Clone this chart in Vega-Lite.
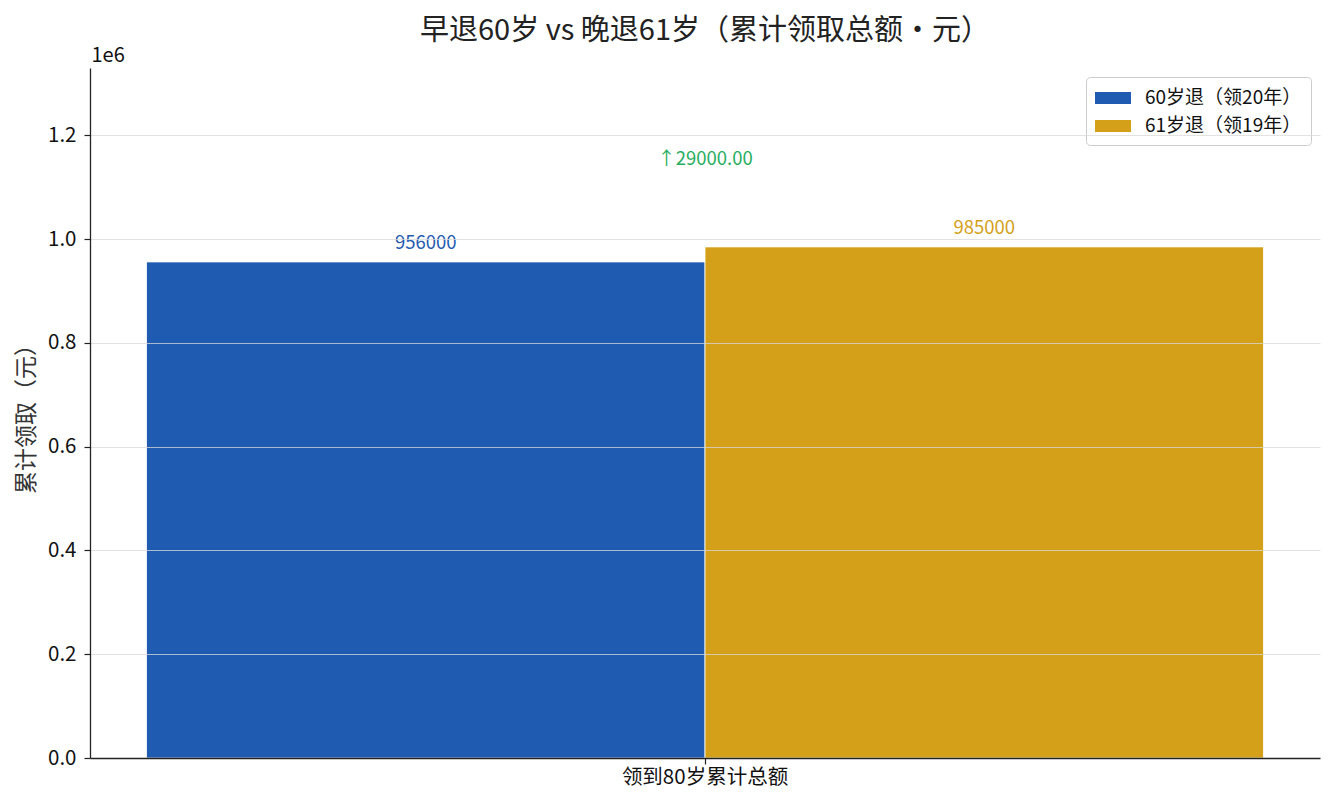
{
  "$schema": "https://vega.github.io/schema/vega-lite/v6.json",
  "autosize": {"type": "none"},
  "padding": {"left": 90, "top": 68, "right": 15, "bottom": 52},
  "width": 1230,
  "height": 690,
  "background": "white",
  "title": {
    "text": "早退60岁 vs 晚退61岁（累计领取总额・元）",
    "fontSize": 29,
    "fontWeight": "normal",
    "color": "#222222",
    "anchor": "middle",
    "frame": "group",
    "offset": -1
  },
  "datasets": {
    "bars": [
      {"category": "领到80岁累计总额", "series": "60岁退（领20年）", "value": 956000, "label": "956000"},
      {"category": "领到80岁累计总额", "series": "61岁退（领19年）", "value": 985000, "label": "985000"}
    ],
    "notes": [
      {"category": "领到80岁累计总额", "value": 1155000, "label": "↑29000.00"}
    ]
  },
  "encoding": {
    "x": {
      "field": "category",
      "type": "nominal",
      "scale": {"paddingInner": 0, "paddingOuter": 0.0506},
      "axis": {
        "title": "1e6",
        "titleAngle": 0,
        "titleAlign": "left",
        "titleBaseline": "bottom",
        "titleX": 1,
        "titleY": -693,
        "titleFontSize": 20,
        "titleFontWeight": "normal",
        "titleColor": "#111111",
        "labelAngle": 0,
        "labelFontSize": 20.5,
        "labelPadding": 3,
        "tickSize": 6,
        "zindex": 2
      }
    },
    "y": {
      "field": "value",
      "type": "quantitative",
      "scale": {"domain": [0, 1329750], "nice": false, "zero": true},
      "axis": {
        "title": "累计领取（元）",
        "titleFontSize": 23,
        "titleFontWeight": "normal",
        "titlePadding": 9,
        "values": [0, 200000, 400000, 600000, 800000, 1000000, 1200000],
        "labelExpr": "format(datum.value / 1000000, '.1f')",
        "labelFontSize": 20.5,
        "labelPadding": 8,
        "tickSize": 6,
        "grid": true,
        "gridColor": "#d8d8d8",
        "gridOpacity": 0.75,
        "zindex": 1
      }
    }
  },
  "layer": [
    {
      "data": {"name": "bars"},
      "mark": {"type": "bar", "stroke": "white", "strokeWidth": 0.8},
      "encoding": {
        "xOffset": {"field": "series", "type": "nominal", "scale": {"paddingInner": 0, "paddingOuter": 0}},
        "color": {
          "field": "series",
          "type": "nominal",
          "scale": {"domain": ["60岁退（领20年）", "61岁退（领19年）"], "range": ["#1f5bb0", "#d4a019"]},
          "legend": {
            "title": null,
            "orient": "top-right",
            "offset": 9,
            "labelFontSize": 19,
            "labelColor": "#111111",
            "symbolType": "M-1,-0.5H2V0.5H-1Z",
            "symbolSize": 576,
            "symbolStrokeWidth": 0,
            "symbolOpacity": 1,
            "labelOffset": 26,
            "rowPadding": 6,
            "padding": 9,
            "strokeColor": "#cccccc",
            "fillColor": "white",
            "cornerRadius": 4
          }
        }
      }
    },
    {
      "data": {"name": "bars"},
      "mark": {"type": "text", "baseline": "alphabetic", "dy": -13, "fontSize": 18.5},
      "encoding": {
        "xOffset": {"field": "series", "type": "nominal", "scale": {"paddingInner": 0, "paddingOuter": 0}},
        "text": {"field": "label"},
        "color": {"field": "series", "type": "nominal", "legend": null}
      }
    },
    {
      "data": {"name": "notes"},
      "mark": {"type": "text", "baseline": "middle", "fontSize": 18.5, "color": "#27ae60"},
      "encoding": {
        "text": {"field": "label"}
      }
    }
  ],
  "config": {
    "font": "Noto Sans CJK SC",
    "view": {"stroke": null},
    "axis": {
      "domainColor": "#222222",
      "domainWidth": 1.3,
      "tickColor": "#222222",
      "tickWidth": 1.2,
      "labelColor": "#111111",
      "titleColor": "#333333",
      "labelFont": "Noto Sans CJK SC",
      "titleFont": "Noto Sans CJK SC"
    },
    "axisX": {"grid": false},
    "legend": {"labelFont": "Noto Sans CJK SC"}
  }
}
